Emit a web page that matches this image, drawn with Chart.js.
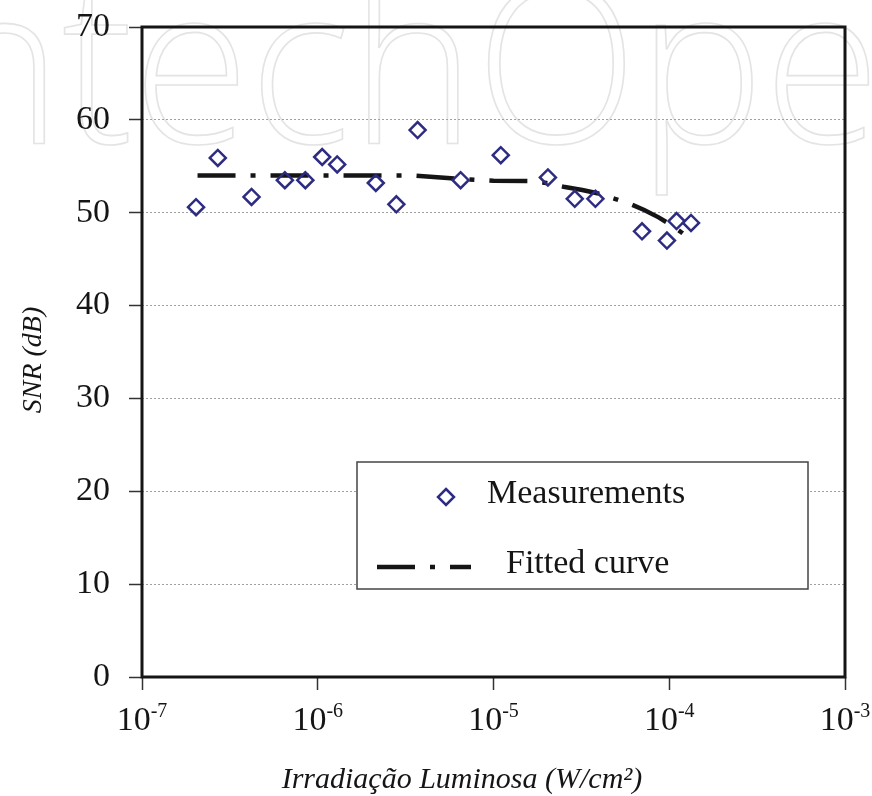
<!DOCTYPE html>
<html>
<head>
<meta charset="utf-8">
<script src="https://cdn.jsdelivr.net/npm/chart.js@4.4.1/dist/chart.umd.min.js"></script>
<style>
  html, body { margin: 0; padding: 0; background: #fff; }
  #wrap { width: 872px; height: 796px; position: relative; }
</style>
</head>
<body>
<div id="wrap"><canvas id="c"></canvas></div>
<script>
// ---- data ----
const measX = [2.03e-7, 2.7e-7, 4.2e-7, 6.5e-7, 8.5e-7, 1.06e-6, 1.29e-6, 2.14e-6, 2.8e-6, 3.7e-6, 6.5e-6, 1.1e-5, 2.04e-5, 2.9e-5, 3.8e-5, 7.0e-5, 9.7e-5, 1.1e-4, 1.33e-4];
const measY = [50.6, 55.9, 51.7, 53.5, 53.5, 56.0, 55.2, 53.2, 50.9, 58.9, 53.5, 56.2, 53.8, 51.5, 51.5, 48.0, 47.0, 49.1, 48.9];
const fitX = [2.07e-7, 5e-7, 1e-6, 2e-6, 3.5e-6, 5e-6, 7e-6, 1e-5, 1.6e-5, 2e-5, 2.5e-5, 3.2e-5, 3.9e-5, 4.9e-5, 5.9e-5, 7.2e-5, 8.7e-5, 1.0e-4, 1.17e-4, 1.33e-4];
const fitY = [54.0, 54.0, 54.0, 54.0, 54.0, 53.8, 53.6, 53.45, 53.4, 53.2, 52.8, 52.45, 52.1, 51.5, 51.0, 50.3, 49.5, 48.8, 47.9, 47.1];
const xTickValues = [1e-7, 1e-6, 1e-5, 1e-4, 1e-3];
const xTickExponents = ['-7', '-6', '-5', '-4', '-3'];
const yTickValues = [0, 10, 20, 30, 40, 50, 60, 70];
const seriesNames = ['Measurements', 'Fitted curve'];
const xTitle = 'Irradiação Luminosa (W/cm²)';
const yTitle = 'SNR (dB)';
const watermarkText = 'IntechOpen';

const NAVY = '#2d2c82';
const INK = '#151515';
const SERIF = '"Liberation Serif", "Times New Roman", serif';
const FIT_DASH = [38, 15, 5, 15];

const watermark = {
  id: 'watermark',
  beforeDraw(chart) {
    const ctx = chart.ctx;
    ctx.save();
    ctx.fillStyle = '#fff';
    ctx.fillRect(0, 0, chart.width, chart.height);
    const fam = '"Open Sans", "DejaVu Sans", sans-serif';
    let size = 100;
    ctx.font = `300 ${size}px ${fam}`;
    const span = ctx.measureText('echOp').width;
    size = size * 631 / span;
    ctx.font = `300 ${size}px ${fam}`;
    const pre = ctx.measureText('Int').width;
    const xh = ctx.measureText('x').actualBoundingBoxAscent || size * 0.53;
    const sy = 118 / xh;
    ctx.translate(133 - pre, 143);
    ctx.scale(1, sy);
    ctx.strokeStyle = '#e4e4e4';
    ctx.lineWidth = 1.6;
    ctx.textBaseline = 'alphabetic';
    ctx.strokeText(watermarkText, 0, 0);
    ctx.restore();
  }
};

const decorations = {
  id: 'decorations',
  afterDraw(chart) {
    const ctx = chart.ctx;
    const a = chart.chartArea;
    const xs = chart.scales.x;
    ctx.save();
    // frame
    ctx.strokeStyle = INK;
    ctx.lineWidth = 3;
    ctx.strokeRect(a.left, a.top, a.right - a.left, a.bottom - a.top);
    // x tick labels with superscript exponents
    ctx.fillStyle = INK;
    ctx.textBaseline = 'alphabetic';
    ctx.textAlign = 'left';
    xTickValues.forEach((v, i) => {
      const px = xs.getPixelForValue(v);
      ctx.font = `34px ${SERIF}`;
      const w1 = ctx.measureText('10').width;
      ctx.font = `20px ${SERIF}`;
      const w2 = ctx.measureText(xTickExponents[i]).width;
      const x0 = px - (w1 + w2) / 2;
      ctx.font = `34px ${SERIF}`;
      ctx.fillText('10', x0, 730);
      ctx.font = `20px ${SERIF}`;
      ctx.fillText(xTickExponents[i], x0 + w1, 717);
    });
    // axis titles
    ctx.font = `italic 30px ${SERIF}`;
    ctx.textAlign = 'center';
    ctx.fillText(xTitle, 462, 788);
    ctx.save();
    ctx.translate(41, 360);
    ctx.rotate(-Math.PI / 2);
    ctx.font = `italic 28px ${SERIF}`;
    ctx.fillText(yTitle, 0, 0);
    ctx.restore();
    ctx.textAlign = 'left';
    // legend box
    ctx.lineWidth = 1.5;
    ctx.strokeStyle = '#444';
    ctx.fillStyle = '#fff';
    ctx.fillRect(357, 462, 451, 127);
    ctx.strokeRect(357, 462, 451, 127);
    // marker
    const mx = 446, my = 497, r = 8;
    ctx.beginPath();
    ctx.moveTo(mx, my - r); ctx.lineTo(mx + r, my); ctx.lineTo(mx, my + r); ctx.lineTo(mx - r, my); ctx.closePath();
    ctx.strokeStyle = NAVY; ctx.lineWidth = 2.5; ctx.stroke();
    // fitted line sample
    ctx.beginPath();
    ctx.setLineDash(FIT_DASH);
    ctx.moveTo(377, 567); ctx.lineTo(471, 567);
    ctx.strokeStyle = INK; ctx.lineWidth = 4.5; ctx.stroke();
    ctx.setLineDash([]);
    // legend texts
    ctx.fillStyle = INK;
    ctx.font = `34px ${SERIF}`;
    ctx.fillText(seriesNames[0], 487, 503);
    ctx.fillText(seriesNames[1], 506, 573);
    ctx.restore();
  }
};

new Chart(document.getElementById('c'), {
  data: {
    datasets: [
      {
        type: 'scatter',
        label: seriesNames[0],
        data: measX.map((x, i) => ({ x, y: measY[i] })),
        pointStyle: 'rectRot',
        pointRadius: 8,
        pointBorderWidth: 2.5,
        borderColor: NAVY,
        backgroundColor: 'rgba(0,0,0,0)',
        showLine: false
      },
      {
        type: 'line',
        label: seriesNames[1],
        data: fitX.map((x, i) => ({ x, y: fitY[i] })),
        borderColor: INK,
        borderWidth: 4.5,
        borderDash: FIT_DASH,
        pointRadius: 0,
        tension: 0,
        fill: false
      }
    ]
  },
  options: {
    responsive: true,
    maintainAspectRatio: false,
    animation: false,
    events: [],
    layout: { padding: { left: 0, right: 27, top: 27, bottom: 0 } },
    plugins: { legend: { display: false }, tooltip: { enabled: false } },
    scales: {
      x: {
        type: 'logarithmic',
        min: 1e-7,
        max: 1e-3,
        afterBuildTicks(scale) { scale.ticks = xTickValues.map(v => ({ value: v })); },
        afterFit(scale) { scale.height = 119; scale.paddingLeft = 0; scale.paddingRight = 0; },
        ticks: { display: false },
        grid: { drawOnChartArea: false, drawTicks: true, tickLength: 13, tickColor: '#333', tickWidth: 1.5 },
        border: { display: false }
      },
      y: {
        type: 'linear',
        min: 0,
        max: 70,
        afterBuildTicks(scale) { scale.ticks = yTickValues.map(v => ({ value: v })); },
        afterFit(scale) { scale.width = 142; scale.paddingTop = 0; scale.paddingBottom = 0; },
        ticks: { font: { family: SERIF, size: 34 }, color: INK, padding: 19 },
        grid: { color: '#a0a0a0', lineWidth: 1, tickLength: 13, tickColor: '#333', tickWidth: 1.5 },
        border: { display: false, dash: [2, 2] }
      }
    }
  },
  plugins: [watermark, decorations]
});
</script>
</body>
</html>
